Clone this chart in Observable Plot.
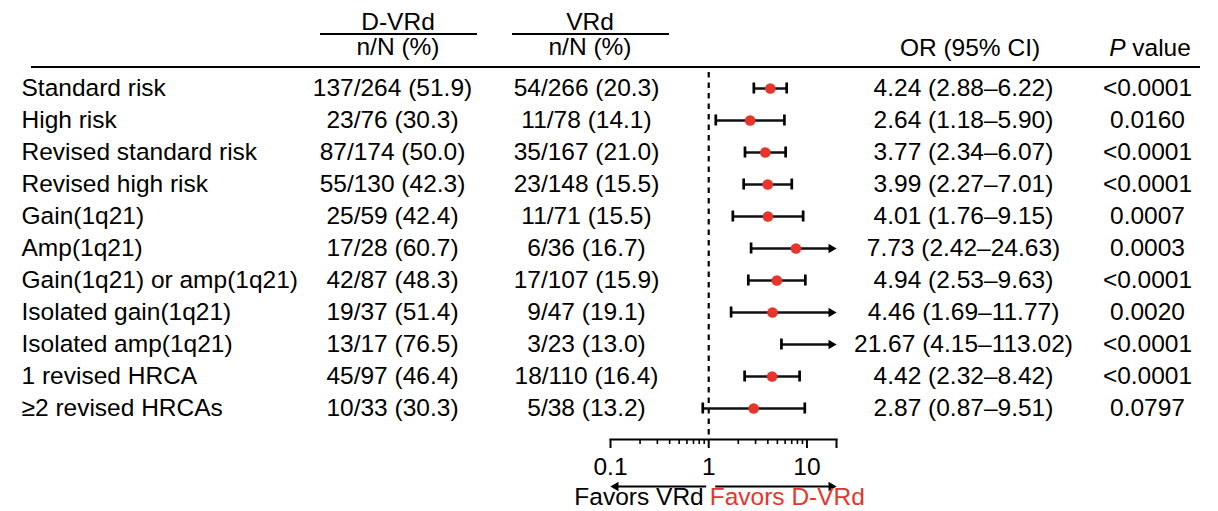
<!DOCTYPE html>
<html><head><meta charset="utf-8">
<script src="https://cdn.jsdelivr.net/npm/d3@7"></script>
<script src="https://cdn.jsdelivr.net/npm/@observablehq/plot@0.6"></script>
<style>
body{margin:0;background:#fff;}
#chart{position:relative;width:1218px;height:511px;font-family:"Liberation Sans",Arial,sans-serif;color:#000;background:#fff;}
#header{position:relative;width:1218px;height:72px;}
.h{position:absolute;font-size:24.5px;line-height:0.85;transform:translateX(-50%);white-space:nowrap;}
.rule{position:absolute;height:2px;background:#000;}
#chart svg{display:block;}
</style></head>
<body><div id="chart"><div id="header"></div></div>
<script>
// ---- data ----
const subgroups = ["Standard risk","High risk","Revised standard risk","Revised high risk","Gain(1q21)","Amp(1q21)","Gain(1q21) or amp(1q21)","Isolated gain(1q21)","Isolated amp(1q21)","1 revised HRCA","\u22652 revised HRCAs"];
const dvrd = ["137/264 (51.9)","23/76 (30.3)","87/174 (50.0)","55/130 (42.3)","25/59 (42.4)","17/28 (60.7)","42/87 (48.3)","19/37 (51.4)","13/17 (76.5)","45/97 (46.4)","10/33 (30.3)"];
const vrd = ["54/266 (20.3)","11/78 (14.1)","35/167 (21.0)","23/148 (15.5)","11/71 (15.5)","6/36 (16.7)","17/107 (15.9)","9/47 (19.1)","3/23 (13.0)","18/110 (16.4)","5/38 (13.2)"];
const orText = ["4.24 (2.88\u20136.22)","2.64 (1.18\u20135.90)","3.77 (2.34\u20136.07)","3.99 (2.27\u20137.01)","4.01 (1.76\u20139.15)","7.73 (2.42\u201324.63)","4.94 (2.53\u20139.63)","4.46 (1.69\u201311.77)","21.67 (4.15\u2013113.02)","4.42 (2.32\u20138.42)","2.87 (0.87\u20139.51)"];
const pValues = ["<0.0001","0.0160","<0.0001","<0.0001","0.0007","0.0003","<0.0001","0.0020","<0.0001","<0.0001","0.0797"];
// plotted values (as drawn in the figure)
const orValues = [4.24,2.64,3.77,3.99,4.01,7.73,4.94,4.46,21.67,4.42,2.87];
const loValues = [2.88,1.18,2.34,2.27,1.76,2.7,2.53,1.69,5.5,2.32,0.87];
const hiValues = [6.22,5.90,6.07,7.01,9.15,24.63,9.63,11.77,113.02,8.42,9.51];
const arrowRows = [false,false,false,false,false,true,false,true,true,false,false];
const xDomain = [0.1, 20];
const majorTicks = [0.1, 1, 10, 20];
const majorLabels = ["0.1", "1", "10", ""];
const minorTicks = [0.2,0.3,0.4,0.5,0.6,0.7,0.8,0.9,2,3,4,5,6,7,8,9];
const armNames = ["D-VRd", "VRd"];
const armSub = ["n/N (%)", "n/N (%)"];
const statHeaders = ["OR (95% CI)", "value"];
const favorsLabels = ["Favors VRd", "Favors D-VRd"];
const favorsTo = [0.1, 20];
const nullValue = 1;

const RED = "#e8352b";
const FS = 24.5;
const FONT = "Liberation Sans, Arial, sans-serif";

// ---- header (HTML above the plot) ----
const header = document.getElementById("header");
function addText(txt, cx, top, extra) {
  const d = document.createElement("div");
  d.className = "h"; d.style.left = cx + "px"; d.style.top = top + "px";
  if (extra) d.innerHTML = extra + txt; else d.textContent = txt;
  header.appendChild(d);
}
function addRule(left, w, top) {
  const r = document.createElement("div");
  r.className = "rule"; r.style.left = left + "px"; r.style.width = w + "px"; r.style.top = top + "px";
  header.appendChild(r);
}
addText(armNames[0], 398, 12);
addText(armNames[1], 590, 12);
addRule(320, 157, 33);
addRule(512, 157, 33);
addText(armSub[0], 398, 36.5);
addText(armSub[1], 590, 36.5);
addText(statHeaders[0], 970, 37.5);
addText(statHeaders[1], 1150, 37.5, "<i>P</i> ");
addRule(31, 1169, 66);

// ---- rows ----
const rows = subgroups.map((s, i) => ({
  s, dvrd: dvrd[i], vrd: vrd[i], orText: orText[i], p: pValues[i],
  or: orValues[i], lo: loValues[i], hi: hiValues[i], arrow: arrowRows[i]
}));
const xMax = xDomain[1];

const main = Plot.plot({
  width: 1218, height: 406,
  marginTop: 0, marginBottom: 39, marginLeft: 610, marginRight: 382,
  style: {fontFamily: FONT, fontSize: FS + "px", background: "white", color: "black", overflow: "visible"},
  x: {type: "log", domain: xDomain, label: null},
  y: {type: "band", domain: subgroups, padding: 0, insetBottom: 15, axis: null, label: null},
  marks: [
    Plot.ruleX([nullValue], {x: d => d, stroke: "#000", strokeWidth: 2.2, strokeDasharray: "5.5,5"}),
    Plot.text(rows, {y: "s", text: "s", frameAnchor: "left", textAnchor: "start", dx: -589, fontSize: FS}),
    Plot.text(rows, {y: "s", text: "dvrd", frameAnchor: "left", textAnchor: "middle", dx: -218, fontSize: FS}),
    Plot.text(rows, {y: "s", text: "vrd", frameAnchor: "left", textAnchor: "middle", dx: -24, fontSize: FS}),
    Plot.text(rows, {y: "s", text: "orText", frameAnchor: "right", textAnchor: "middle", dx: 127, fontSize: FS}),
    Plot.text(rows, {y: "s", text: "p", frameAnchor: "right", textAnchor: "middle", dx: 311, fontSize: FS}),
    // CI lines
    Plot.ruleY(rows.filter(d => !d.arrow), {y: "s", x1: "lo", x2: "hi", stroke: "#111", strokeWidth: 2.5}),
    Plot.ruleY(rows.filter(d => d.arrow), {y: "s", x1: "lo", x2: () => xMax, insetRight: 5, stroke: "#111", strokeWidth: 2.5}),
    Plot.tickX(rows, {y: "s", x: "lo", insetTop: 10.5, insetBottom: 10.5, stroke: "#000", strokeWidth: 2.7}),
    Plot.tickX(rows.filter(d => !d.arrow), {y: "s", x: "hi", insetTop: 10.5, insetBottom: 10.5, stroke: "#000", strokeWidth: 2.7}),
    Plot.dot(rows.filter(d => d.arrow), {y: "s", x: () => xMax, symbol: "triangle", r: 3.5, rotate: 90, dx: -5.3, fill: "#000", stroke: "none"}),
    Plot.dot(rows.filter(d => d.or <= xMax), {y: "s", x: "or", r: 5.3, fill: RED, stroke: "none"}),
    // axis
    Plot.frame({anchor: "bottom", stroke: "#000", strokeWidth: 2}),
    Plot.axisX(majorTicks, {tickSize: 9, tickPadding: 9, strokeWidth: 2, fontSize: FS, label: null,
      tickFormat: d => majorLabels[majorTicks.indexOf(d)]}),
    Plot.axisX(minorTicks, {tickSize: 5, strokeWidth: 1.6, label: null, tickFormat: () => ""})
  ]
});

const favors = favorsLabels.map((label, i) => ({label, to: favorsTo[i], color: i === 0 ? "#000" : RED}));
const bottom = Plot.plot({
  width: 1218, height: 33,
  marginTop: 8, marginBottom: 14, marginLeft: 610, marginRight: 382,
  style: {fontFamily: FONT, fontSize: FS + "px", background: "white", color: "black", overflow: "visible"},
  x: {type: "log", domain: xDomain, axis: null, label: null},
  y: {type: "point", domain: ["arrow", "label"], padding: 0, axis: null, label: null},
  marks: [
    Plot.ruleY([favors[0]], {y: () => "arrow", x1: "to", x2: () => nullValue, insetLeft: 5, insetRight: 2, stroke: "#000", strokeWidth: 2.2}),
    Plot.ruleY([favors[1]], {y: () => "arrow", x1: () => nullValue, x2: "to", insetLeft: 7, insetRight: 5, stroke: "#000", strokeWidth: 2.2}),
    Plot.dot([favors[0]], {y: () => "arrow", x: "to", symbol: "triangle", r: 3.5, rotate: -90, dx: 5.3, fill: "#000", stroke: "none"}),
    Plot.dot([favors[1]], {y: () => "arrow", x: "to", symbol: "triangle", r: 3.5, rotate: 90, dx: -5.3, fill: "#000", stroke: "none"}),
    Plot.text([favors[0]], {y: () => "label", x: () => nullValue, text: "label", textAnchor: "end", dx: -5, fill: "color", fontSize: FS}),
    Plot.text([favors[1]], {y: () => "label", x: () => nullValue, text: "label", textAnchor: "start", dx: 1, fill: "color", fontSize: FS})
  ]
});

const chart = document.getElementById("chart");
chart.appendChild(main);
chart.appendChild(bottom);
</script>
</body></html>
